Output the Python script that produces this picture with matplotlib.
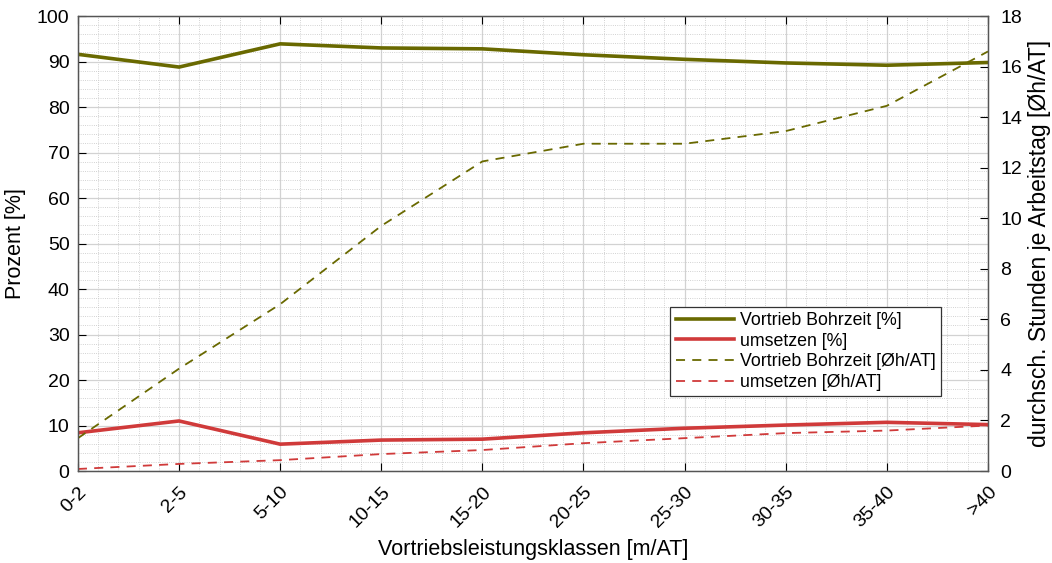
import numpy as np
import matplotlib
matplotlib.use('Agg')
import matplotlib.pyplot as plt
from matplotlib.ticker import MultipleLocator, AutoMinorLocator

plt.rcParams['font.family'] = ['Liberation Sans', 'DejaVu Sans']

klassen = ['0-2', '2-5', '5-10', '10-15', '15-20', '20-25', '25-30', '30-35', '35-40', '>40']

# Anteile in Prozent
bohrzeit_proz = [91.6, 88.8, 93.9, 93.0, 92.8, 91.5, 90.5, 89.7, 89.2, 89.8]
umsetzen_proz = [8.4, 11.0, 5.9, 6.8, 7.0, 8.4, 9.4, 10.1, 10.7, 10.2]

# durchschnittliche Stunden je Arbeitstag
bohrzeit_h = [1.3, 4.05, 6.6, 9.7, 12.25, 12.95, 12.95, 13.45, 14.45, 16.6]
umsetzen_h = [0.08, 0.28, 0.43, 0.67, 0.83, 1.1, 1.3, 1.5, 1.6, 1.8]

oliv = '#696900'
rot = '#d03a3a'

x = np.arange(len(klassen))

fig = plt.figure(figsize=(10.52, 5.63), dpi=100)
ax = fig.add_axes([0.0741, 0.1634, 0.865, 0.808])
ax2 = ax.twinx()

l1, = ax.plot(x, bohrzeit_proz, color=oliv, lw=2.6, solid_joinstyle='round')
l2, = ax.plot(x, umsetzen_proz, color=rot, lw=2.6, solid_joinstyle='round')
l3, = ax2.plot(x, bohrzeit_h, color=oliv, lw=1.3, ls=(0, (5, 4)))
l4, = ax2.plot(x, umsetzen_h, color=rot, lw=1.3, ls=(0, (5, 4)))

ax.set_xlim(0, len(klassen) - 1)
ax.set_ylim(0, 100)
ax2.set_ylim(0, 18)
ax.set_xticks(x)
ax.set_xticklabels(klassen, rotation=45, ha='right', rotation_mode='anchor', fontsize=14)
ax.yaxis.set_major_locator(MultipleLocator(10))
ax.yaxis.set_minor_locator(AutoMinorLocator(5))
ax.xaxis.set_minor_locator(AutoMinorLocator(5))
ax2.yaxis.set_major_locator(MultipleLocator(2))

ax.grid(which='major', color='#d2d2d2', lw=0.9)
ax.grid(which='minor', color='#c4c4c4', lw=0.6, ls=':')
ax.set_axisbelow(True)

ax.tick_params(which='major', direction='in', length=6, labelsize=14, top=True, pad=6)
ax.tick_params(axis='x', which='major', pad=9)
ax.tick_params(which='minor', length=0)
ax2.tick_params(which='major', direction='in', length=6, labelsize=14, pad=9)
for a in (ax, ax2):
    for s in a.spines.values():
        s.set_color('#555555')
        s.set_linewidth(0.9)

ax.set_ylabel('Prozent [%]', fontsize=15.5, labelpad=8)
ax2.set_ylabel('durchsch. Stunden je Arbeitstag [Øh/AT]', fontsize=16.5)
ax2.yaxis.set_label_coords(1.044, 0.5)
ax.set_xlabel('Vortriebsleistungsklassen [m/AT]', fontsize=15.5, labelpad=6)

leg = ax2.legend([l1, l2, l3, l4],
                 ['Vortrieb Bohrzeit [%]', 'umsetzen [%]',
                  'Vortrieb Bohrzeit [Øh/AT]', 'umsetzen [Øh/AT]'],
                 loc='upper left', bbox_to_anchor=(0.651, 0.361), fontsize=12.8,
                 fancybox=False, framealpha=1, edgecolor='#333333',
                 handlelength=3.3, handletextpad=0.3, borderpad=0.3,
                 labelspacing=0.2, borderaxespad=0)
leg.get_frame().set_linewidth(0.9)

fig.savefig('out.png', dpi=100)
